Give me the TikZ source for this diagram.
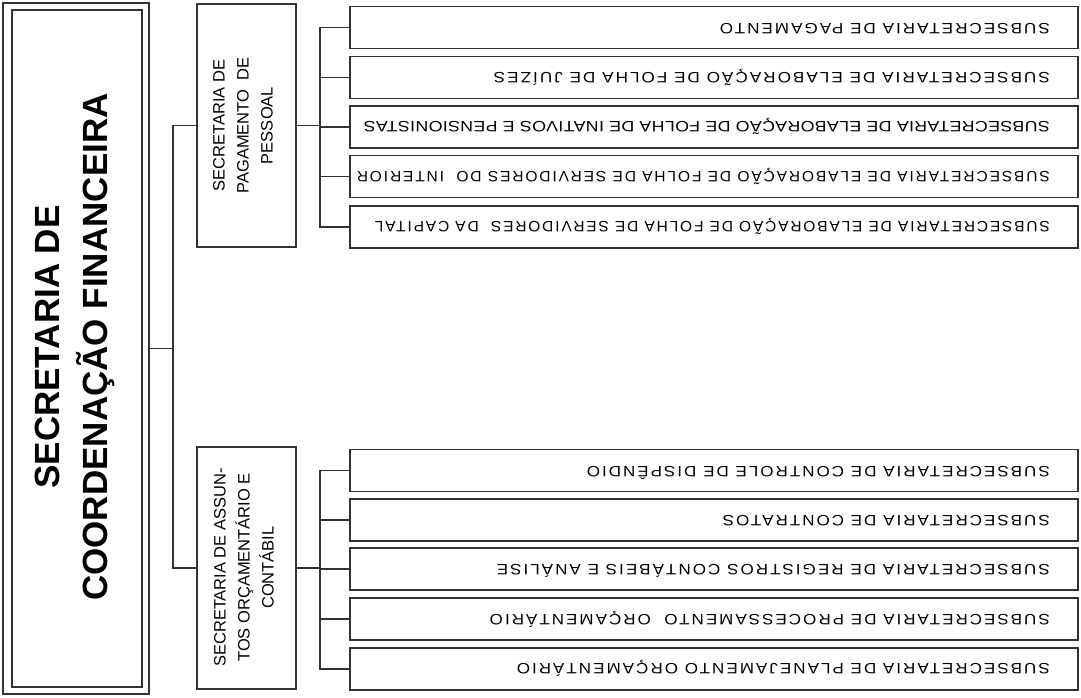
\documentclass[tikz,border=0pt]{standalone}
\usepackage{fontspec}
\setmainfont{Liberation Sans}
\usepackage{graphicx}
\newcommand{\fitsub}[3][12]{\resizebox{#2}{\height}{\addfontfeatures{LetterSpace=#1}#3}}
\tikzset{
  frame/.style={draw=black!80, line width=1.3pt, rectangle, inner sep=0pt},
  subbox/.style={frame, minimum width=728pt, minimum height=42pt},
  link/.style={draw=black!80, line width=1.1pt},
  subtext/.style={rotate=180, anchor=base west, inner sep=0pt, font=\fontsize{15}{15}\selectfont},
  sectext/.style={rotate=90, align=center, inner sep=0pt, font=\fontsize{16.5}{24}\selectfont},
}
\begin{document}
\begin{tikzpicture}[x=1pt,y=-1pt]
\useasboundingbox[fill=white] (0,0) rectangle (1081,698);

% main box
\node[frame, minimum width=146pt, minimum height=691pt] (outer) at (76,348.5) {};
\node[frame, minimum width=130pt, minimum height=677pt] (inner) at (77,348.5) {};
\node[rotate=90, align=center, inner sep=0pt, font=\fontsize{35}{47.5}\selectfont\bfseries] (title) at (75,347) {SECRETARIA DE\\COORDENAÇÃO FINANCEIRA};

% second level
\node[frame, minimum width=99pt, minimum height=243pt] (s2) at (246.5,125.5) {};
\node[sectext] (s2t) at (243,125.5) {SECRETARIA DE\\PAGAMENTO\ \ DE\\PESSOAL};
\node[frame, minimum width=99pt, minimum height=242pt] (s3) at (246.5,568) {};
\node[sectext] (s3t) at (244,567.5) {SECRETARIA DE ASSUN-\\TOS ORÇAMENTÁRIO E\\CONTÁBIL};

% third level, upper
\node[subbox] (u1) at (714,27.5) {};
\node[subbox] (u2) at (714,77.5) {};
\node[subbox] (u3) at (714,127) {};
\node[subbox] (u4) at (714,176.5) {};
\node[subbox] (u5) at (714,227) {};
\node[subtext] (u1t) at (1050,23.5) {\fitsub{330pt}{SUBSECRETARIA DE PAGAMENTO}};
\node[subtext] (u2t) at (1050,73) {\fitsub{556pt}{SUBSECRETARIA DE ELABORAÇÃO DE FOLHA DE JUÍZES}};
\node[subtext] (u3t) at (1050,122) {\fitsub[2]{686pt}{SUBSECRETARIA DE ELABORAÇÃO DE FOLHA DE INATIVOS E PENSIONISTAS}};
\node[subtext] (u4t) at (1050,171.5) {\fitsub{693pt}{SUBSECRETARIA DE ELABORAÇÃO DE FOLHA DE SERVIDORES DO\ \ INTERIOR}};
\node[subtext] (u5t) at (1050,221.5) {\fitsub{675pt}{SUBSECRETARIA DE ELABORAÇÃO DE FOLHA DE SERVIDORES\ \ DA CAPITAL}};

% third level, lower
\node[subbox] (l1) at (714,470.5) {};
\node[subbox] (l2) at (714,520) {};
\node[subbox] (l3) at (714,569) {};
\node[subbox] (l4) at (714,619) {};
\node[subbox] (l5) at (714,669) {};
\node[subtext] (l1t) at (1050,466) {\fitsub{463pt}{SUBSECRETARIA DE CONTROLE DE DISPÊNDIO}};
\node[subtext] (l2t) at (1050,515) {\fitsub{327pt}{SUBSECRETARIA DE CONTRATOS}};
\node[subtext] (l3t) at (1050,564) {\fitsub{553pt}{SUBSECRETARIA DE REGISTROS CONTÁBEIS E ANÁLISE}};
\node[subtext] (l4t) at (1050,614) {\fitsub{560pt}{SUBSECRETARIA DE PROCESSAMENTO\ \ ORÇAMENTÁRIO}};
\node[subtext] (l5t) at (1050,663.5) {\fitsub{533pt}{SUBSECRETARIA DE PLANEJAMENTO ORÇAMENTÁRIO}};

% connectors
\coordinate (b1) at (173,348.5);
\coordinate (b2) at (320,125.5);
\coordinate (b3) at (320,568);
\draw[link] (outer.east) -- (b1);
\draw[link] (s2.west) -| (b1);
\draw[link] (s3.west) -| (b1);
\draw[link] (s2.east) -- (b2);
\draw[link] (s3.east) -- (b3);
\foreach \n in {u1,u2,u3,u4,u5} { \draw[link] (\n.west) -| (b2); }
\foreach \n in {l1,l2,l3,l4,l5} { \draw[link] (\n.west) -| (b3); }
\end{tikzpicture}
\end{document}
